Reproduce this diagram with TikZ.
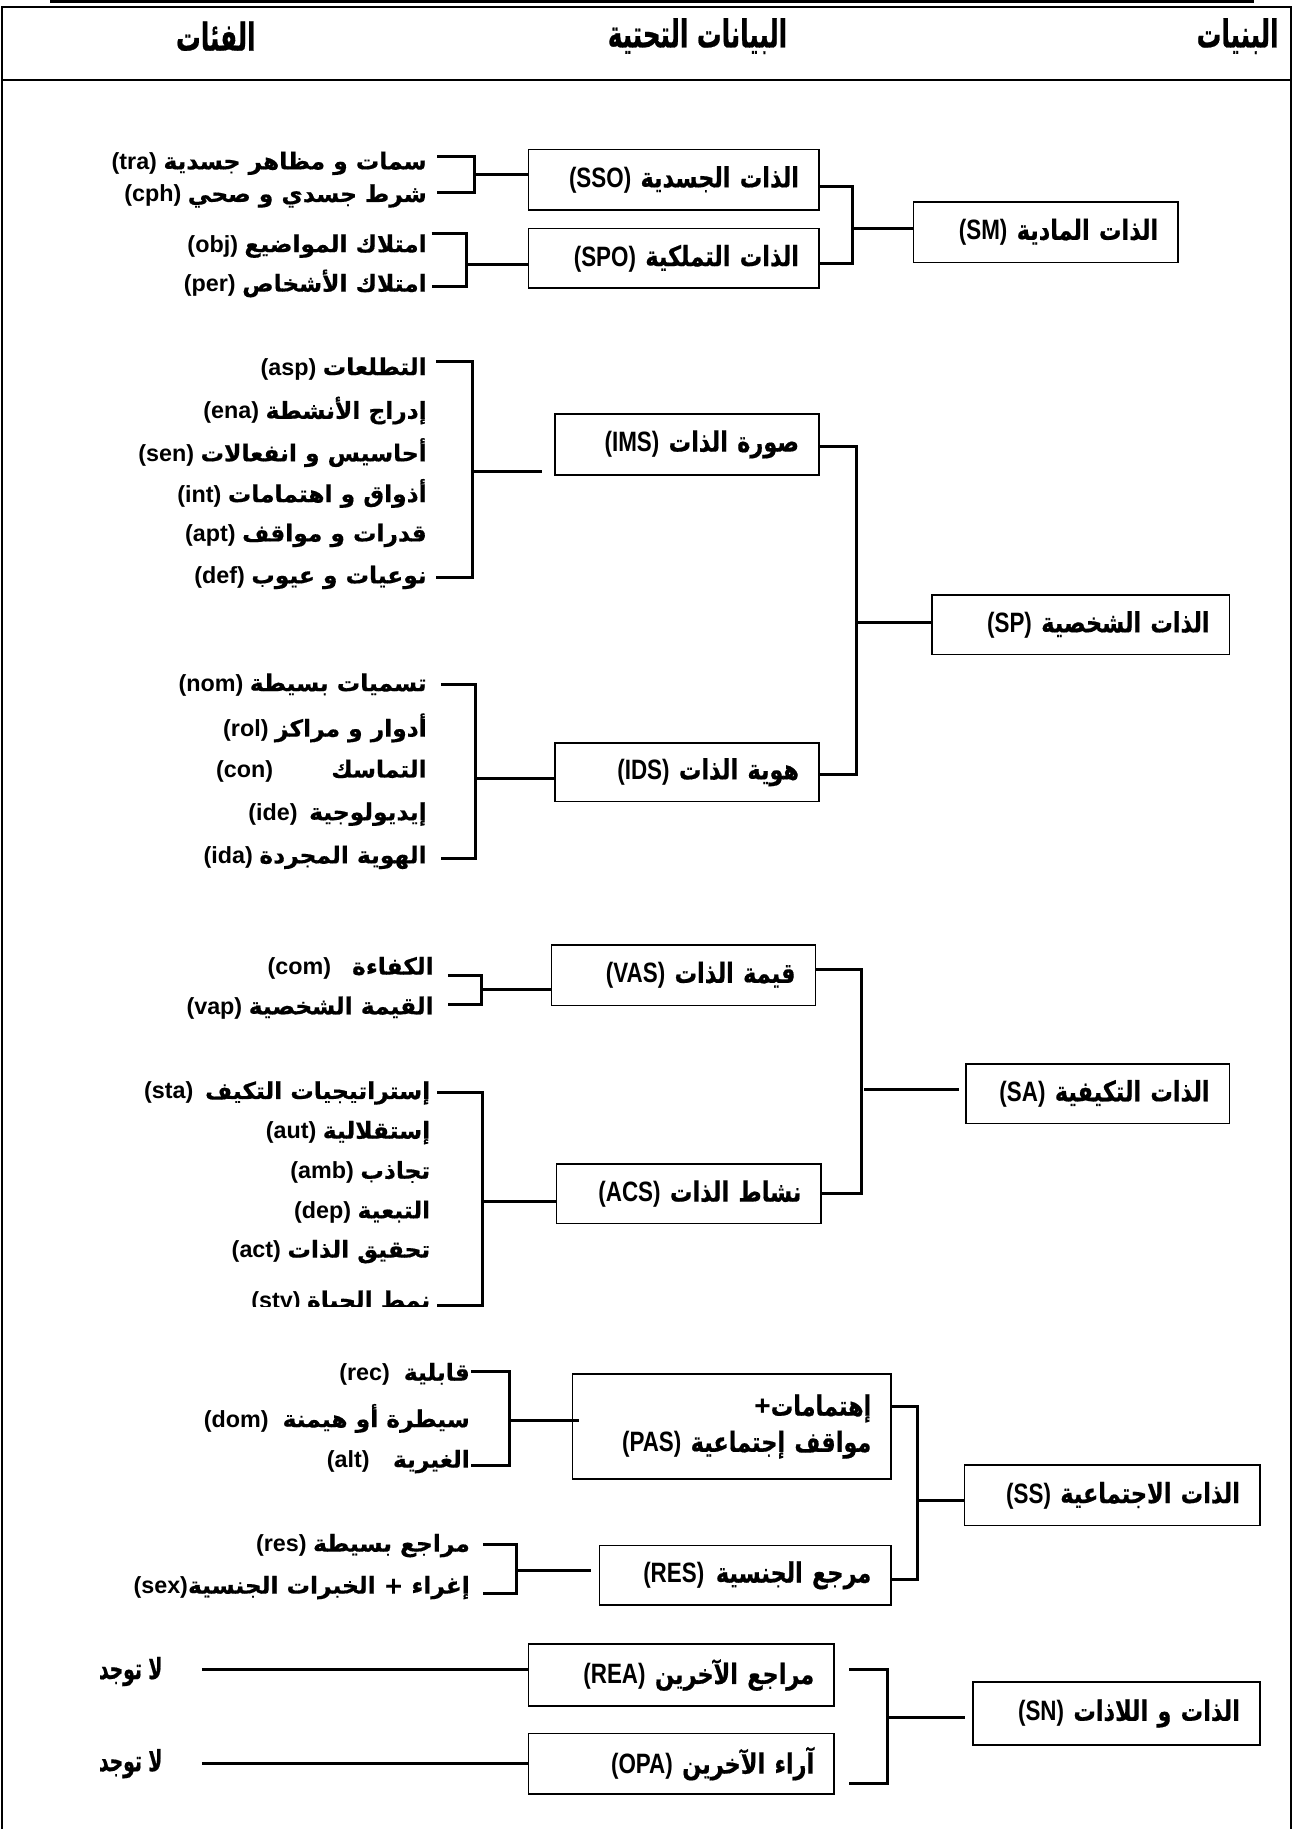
\documentclass[tikz,border=0pt]{standalone}
\usepackage{fontspec}
\setmainfont{Liberation Sans}
\newfontfamily\arabicfont[Script=Arabic,BoldFeatures={FakeBold=0.5}]{DejaVu Sans}
\newfontfamily\arabboxfont[Script=Arabic,FakeStretch=0.8,BoldFeatures={FakeBold=0.5}]{DejaVu Sans}
\newfontfamily\latboxfont[FakeStretch=0.8]{Liberation Sans}
\newfontfamily\arabheadfont[Script=Arabic,FakeStretch=0.64,BoldFeatures={FakeBold=0.6}]{DejaVu Sans}
\TeXXeTstate=1
\newcommand\ar[1]{{\arabicfont\bfseries\beginR #1\endR}}
\newcommand\latx[1]{{\bfseries #1}}
\newcommand\arb[1]{{\arabboxfont\bfseries\beginR #1\endR}}
\newcommand\ltb[1]{{\latboxfont\bfseries #1}}
\newcommand\arh[1]{{\arabheadfont\bfseries\beginR #1\endR}}
\tikzset{
  bx/.style={draw, line width=1.3pt, inner xsep=17pt, inner ysep=0pt, align=right, font=\fontsize{24}{31}\selectfont},
  cat/.style={anchor=east, inner sep=0pt, font=\fontsize{20}{22}\selectfont},
  hd/.style={inner sep=0pt, font=\fontsize{33}{36}\selectfont},
  none/.style={inner sep=0pt, font=\fontsize{25}{28}\selectfont},
  wire/.style={line width=2.6pt},
  frm/.style={line width=1.7pt},
}
\begin{document}
\begin{tikzpicture}[x=1pt,y=-1pt]
\useasboundingbox (0,0) rectangle (1110,1568);
% frame
\draw[wire] (43,1.3) -- (1075,1.3);
\draw[frm] (2,1568) -- (2,6) -- (1107,6) -- (1107,1568);
\draw[frm] (2,68.5) -- (1107,68.5);
\node[hd] (hB) at (1061,31) {\arh{البنيات}};
\node[hd] (hS) at (598,31) {\arh{البيانات التحتية}};
\node[hd] (hC) at (185,31) {\arh{الفئات}};

% ---------- SM ----------
\node[bx, text width=215pt, minimum height=52pt] (SSO) at (577.5,154) {\ltb{(SSO)} \arb{الذات الجسدية}};
\node[bx, text width=215pt, minimum height=51pt] (SPO) at (577.5,221.5) {\ltb{(SPO)} \arb{الذات التملكية}};
\node[bx, text width=193pt, minimum height=52pt] (SM) at (896.5,199) {\ltb{(SM)} \arb{الذات المادية}};
\draw[wire] ([yshift=-6pt]SSO.east) -- ++(28,0) |- ([yshift=-4pt]SPO.east);
\draw[wire] ([yshift=3pt]SM.west) -- ++(-53,0);
\node[cat] (tra) at (366,140) {\latx{(tra)} \ar{سمات و مظاهر جسدية}};
\node[cat] (cph) at (366,168) {\latx{(cph)} \ar{شرط جسدي و صحي}};
\node[cat] (obj) at (366,211) {\latx{(obj)} \ar{امتلاك المواضيع}};
\node[cat] (per) at (366,243) {\latx{(per)} \ar{امتلاك الأشخاص}};
\draw[wire] (375,134) -- (407,134) -- (407,165) -- (375,165);
\draw[wire] (407,150) -- (407,150 -| SSO.west);
\draw[wire] (370,200) -- (400,200) -- (400,246) -- (370,246);
\draw[wire] (400,227) -- (400,227 -| SPO.west);

% ---------- SP ----------
\node[bx, text width=192pt, minimum height=52pt] (IMS) at (589,381) {\ltb{(IMS)} \arb{صورة الذات}};
\node[bx, text width=192pt, minimum height=50pt] (IDS) at (589,662) {\ltb{(IDS)} \arb{هوية الذات}};
\node[bx, text width=221pt, minimum height=51pt] (SP) at (926.5,535.5) {\ltb{(SP)} \arb{الذات الشخصية}};
\draw[wire] ([yshift=-2pt]IMS.east) -- ++(32,0) |- ([yshift=-2pt]IDS.east);
\draw[wire] ([yshift=1.5pt]SP.west) -- ++(-65,0);
\node[cat] (asp) at (366,316) {\latx{(asp)} \ar{التطلعات}};
\node[cat] (ena) at (366,352) {\latx{(ena)} \ar{إدراج الأنشطة}};
\node[cat] (sen) at (366,388) {\latx{(sen)} \ar{أحاسيس و انفعالات}};
\node[cat] (int) at (366,423) {\latx{(int)} \ar{أذواق و اهتمامات}};
\node[cat] (apt) at (366,459) {\latx{(apt)} \ar{قدرات و مواقف}};
\node[cat] (def) at (366,495) {\latx{(def)} \ar{نوعيات و عيوب}};
\draw[wire] (374,310) -- (405,310) -- (405,495) -- (374,495);
\coordinate (imsin) at (465,404);
\draw[wire] (405,404) -- (imsin);
\node[cat] (nom) at (366,587) {\latx{(nom)} \ar{تسميات بسيطة}};
\node[cat] (rol) at (366,624) {\latx{(rol)} \ar{أدوار و مراكز}};
\node[cat] (con) at (366,661) {\latx{(con)}\hspace{50pt}\ar{التماسك}};
\node[cat] (ide) at (366,698) {\latx{(ide)}\hspace{10pt}\ar{إيديولوجية}};
\node[cat] (ida) at (366,735) {\latx{(ida)} \ar{الهوية المجردة}};
\draw[wire] (378,587) -- (408,587) -- (408,736) -- (378,736);
\draw[wire] (408,667) -- (408,667 -| IDS.west);

% ---------- SA ----------
\node[bx, text width=192pt, minimum height=52pt] (VAS) at (586,836) {\ltb{(VAS)} \arb{قيمة الذات}};
\node[bx, text width=193pt, minimum height=51pt] (ACS) at (590.5,1023.5) {\ltb{(ACS)} \arb{نشاط الذات}};
\node[bx, text width=192pt, minimum height=51pt] (SA) at (941,937.5) {\ltb{(SA)} \arb{الذات التكيفية}};
\draw[wire] ([yshift=5pt]VAS.east) -- ++(39,0) |- (ACS.east);
\coordinate (sain) at (822,934);
\draw[wire] (741,934) -- (sain);
\node[cat] (com) at (372,830) {\latx{(com)}\hspace{18pt}\ar{الكفاءة}};
\node[cat] (vap) at (372,864) {\latx{(vap)} \ar{القيمة الشخصية}};
\draw[wire] (384,836) -- (413,836) -- (413,861) -- (384,861);
\draw[wire] (413,848) -- (413,848 -| VAS.west);
\node[cat] (sta) at (369,937) {\latx{(sta)}\hspace{10pt}\ar{إستراتيجيات التكيف}};
\node[cat] (aut) at (369,971) {\latx{(aut)} \ar{إستقلالية}};
\node[cat] (amb) at (369,1005) {\latx{(amb)} \ar{تجاذب}};
\node[cat] (dep) at (369,1039) {\latx{(dep)} \ar{التبعية}};
\node[cat] (act) at (369,1073) {\latx{(act)} \ar{تحقيق الذات}};
\begin{scope}
\clip (0,1090) rectangle (400,1120);
\node[cat] (sty) at (369,1116) {\latx{(sty)} \ar{نمط الحياة}};
\end{scope}
\draw[wire] (375,937) -- (414,937) -- (414,1119) -- (375,1119);
\draw[wire] (414,1030) -- (414,1030 -| ACS.west);

% ---------- SS ----------
\node[bx, text width=239pt, minimum height=90pt] (PAS) at (627.5,1223) {\latx{+}\arb{إهتمامات}\\ \ltb{(PAS)} \arb{مواقف إجتماعية}\hspace*{6pt}};
\node[bx, text width=216pt, minimum height=51pt] (RES) at (639,1350.5) {\ltb{(RES)}\hspace{10pt}\arb{مرجع الجنسية}};
\node[bx, text width=219pt, minimum height=52pt] (SS) at (953.5,1282) {\ltb{(SS)} \arb{الذات الاجتماعية}};
\draw[wire] ([yshift=17pt]PAS.east) -- ++(22,0) |- ([yshift=-3.5pt]RES.east);
\draw[wire] ([yshift=-4pt]SS.west) -- ++(-41,0);
\node[cat] (rec) at (403,1178) {\latx{(rec)}\hspace{12pt}\ar{قابلية}};
\node[cat] (dom) at (403,1216) {\latx{(dom)}\hspace{12pt}\ar{سيطرة أو هيمنة}};
\node[cat] (alt) at (403,1253) {\latx{(alt)}\hspace{20pt}\ar{الغيرية}};
\draw[wire] (404,1176) -- (437,1176) -- (437,1256) -- (404,1256);
\coordinate (pasin) at (496,1218);
\draw[wire] (437,1218) -- (pasin);
\node[cat] (res) at (403,1325) {\latx{(res)} \ar{مراجع بسيطة}};
\node[cat] (sex) at (403,1361) {\latx{(sex)}\ar{إغراء + الخبرات الجنسية}};
\draw[wire] (414,1324) -- (443,1324) -- (443,1366) -- (414,1366);
\coordinate (resin) at (507,1346);
\draw[wire] (443,1346) -- (resin);

% ---------- SN ----------
\node[bx, text width=228pt, minimum height=53pt] (REA) at (584,1436) {\ltb{(REA)} \arb{مراجع الآخرين}};
\node[bx, text width=228pt, minimum height=52pt] (OPA) at (584,1512) {\ltb{(OPA)} \arb{آراء الآخرين}};
\node[bx, text width=212pt, minimum height=54pt] (SN) at (957,1469) {\ltb{(SN)} \arb{الذات و اللاذات}};
\coordinate (reaout) at (728,1431);
\coordinate (opaout) at (728,1529);
\draw[wire] (reaout) -- (761,1431) -- (761,1529) -- (opaout);
\coordinate (snin) at (827,1472);
\draw[wire] (761,1472) -- (snin);
\node[none] (no1) at (112,1433) {\arh{لا توجد}};
\node[none] (no2) at (112,1512) {\arh{لا توجد}};
\draw[wire] (173,1431) -- (173,1431 -| REA.west);
\draw[wire] (173,1512) -- (173,1512 -| OPA.west);
\end{tikzpicture}
\end{document}
